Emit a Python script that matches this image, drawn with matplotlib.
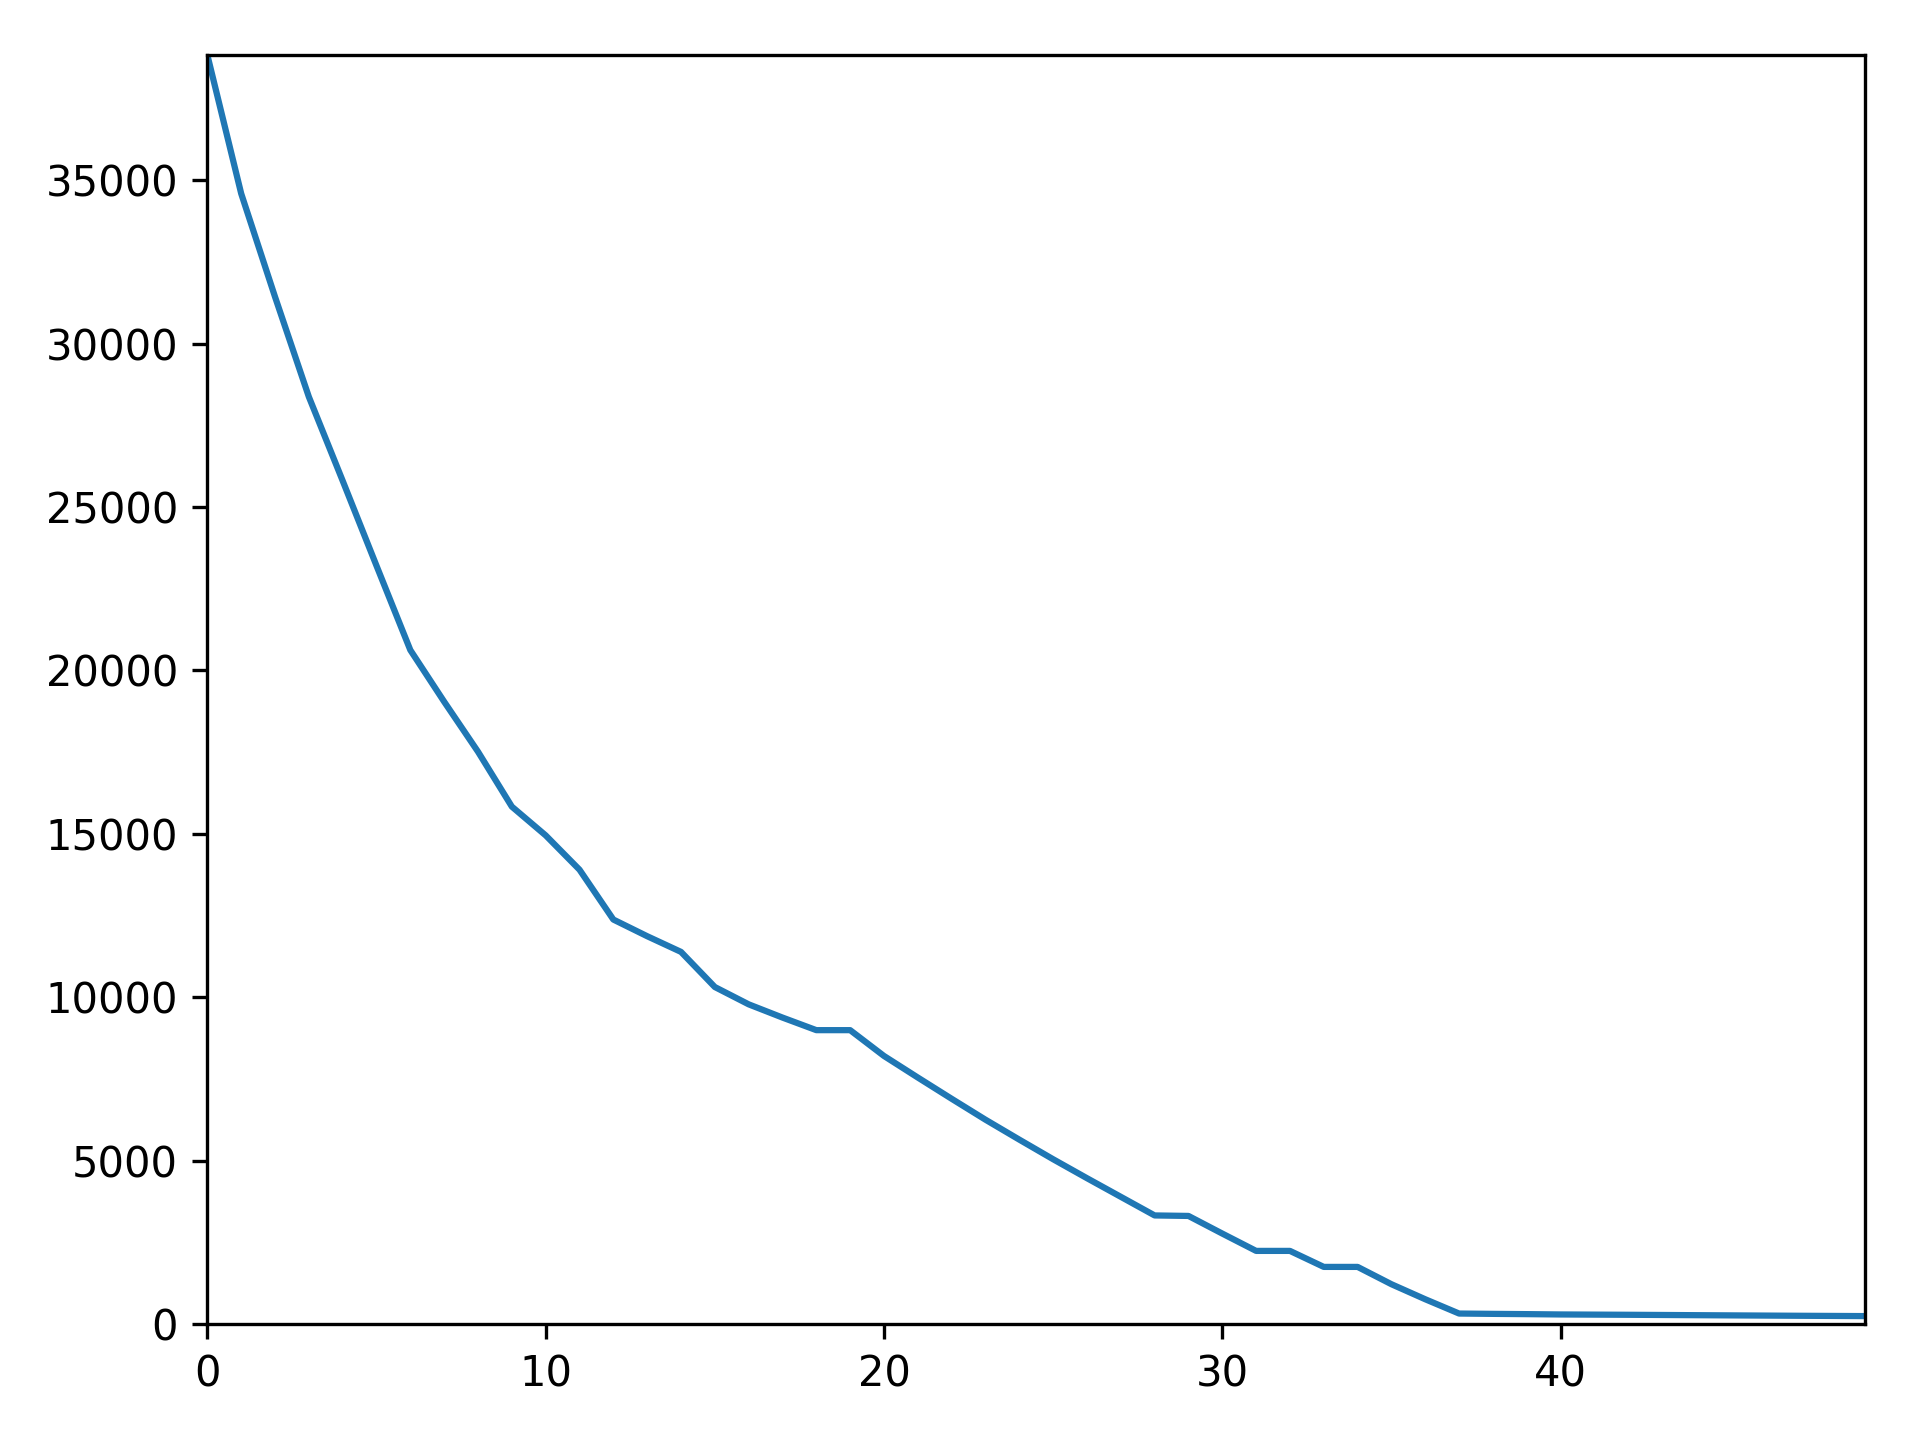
import matplotlib
matplotlib.use("Agg")
import matplotlib.pyplot as plt
import numpy as np

# values, one per step 0..49
steps = np.arange(50)
remaining = [38830, 34590, 31430, 28370, 25800, 23200, 20620, 19040, 17510, 15830,
             14950, 13900, 12375, 11865, 11385, 10310, 9780, 9375, 8990, 8990,
             8200, 7540, 6890, 6250, 5640, 5040, 4460, 3890, 3320, 3305,
             2765, 2235, 2235, 1745, 1745, 1215, 755, 318, 308, 300,
             290, 285, 280, 274, 268, 262, 256, 250, 245, 240]

fig, ax = plt.subplots(figsize=(6.4, 4.8), dpi=300)
ax.plot(steps, remaining)
ax.set_xlim(0, steps[-1])
ax.set_ylim(0, max(remaining))

fig.subplots_adjust(left=0.108, right=0.9714, top=0.9618, bottom=0.0806)
fig.savefig("out.png", dpi=300)
